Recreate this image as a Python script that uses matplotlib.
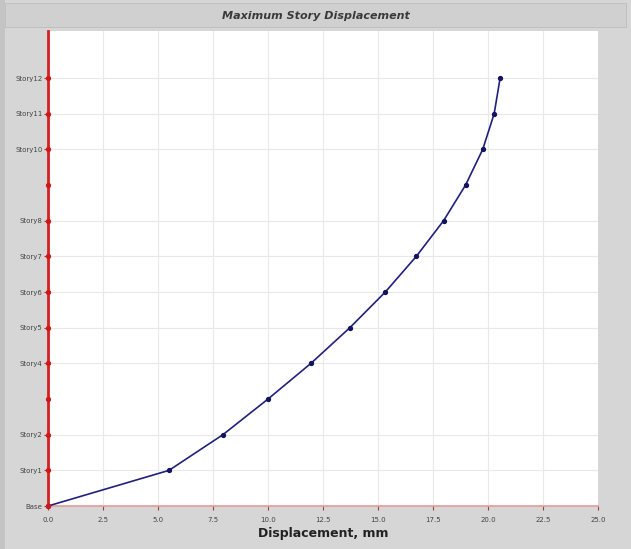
import numpy as np
import matplotlib.pyplot as plt
from matplotlib.patches import Rectangle

# story levels (bottom to top) and max displacement
stories = ["Base", "Story1", "Story2", "Story3", "Story4", "Story5", "Story6",
           "Story7", "Story8", "Story9", "Story10", "Story11", "Story12"]
disp_mm = [0.0, 5.5, 7.95, 10.0, 11.95, 13.72, 15.33, 16.74, 17.98, 18.98,
           19.76, 20.28, 20.55]
# levels that carry a label / gridline in the original
shown = ["Base", "Story1", "Story2", "Story4", "Story5", "Story6", "Story7",
         "Story8", "Story10", "Story11", "Story12"]
x_ticks = [0.0, 2.5, 5.0, 7.5, 10.0, 12.5, 15.0, 17.5, 20.0, 22.5, 25.0]

levels = np.arange(len(stories))

fig = plt.figure(figsize=(6.31, 5.49), dpi=100, facecolor='#d6d6d6')

# title band
fig.patches.append(Rectangle((0.008, 0.950), 0.984, 0.044, transform=fig.transFigure,
                             facecolor='#d0d0d0', edgecolor='#bdbdbd', lw=0.6))
fig.patches.append(Rectangle((0.0, 0.0), 0.008, 1.0, transform=fig.transFigure,
                             facecolor='#c4c4c4', edgecolor='none'))
fig.text(0.5, 0.971, "Maximum Story Displacement", ha='center', va='center',
         fontsize=8, fontweight='bold', style='italic', color='#3a3a3a')

ax = fig.add_axes([0.0761, 0.0783, 0.8716, 0.8652])
ax.set_facecolor('white')
ax.set_xlim(0, 25)
ax.set_ylim(0, 13.32)

# grid
for s in shown:
    y = stories.index(s)
    ax.axhline(y, color='#e8e8e8', lw=0.8, zorder=0)
for xv in x_ticks[1:-1]:
    ax.axvline(xv, color='#e8e8e8', lw=0.8, zorder=0)

# curve
ax.plot(disp_mm, levels, color='#20207e', lw=1.2, marker='o', ms=2.8,
        mfc='#14145e', mec='#14145e', zorder=3, clip_on=False)

# y axis markers (red dots at each level)
ax.plot(np.zeros(len(levels)), levels, ls='none', marker='o', ms=2.8,
        color='#d01818', zorder=4, clip_on=False)

for side in ['top', 'right']:
    ax.spines[side].set_visible(False)
ax.spines['left'].set_color('#d42020')
ax.spines['left'].set_linewidth(2.0)
ax.spines['bottom'].set_color('#e59a9a')
ax.spines['bottom'].set_linewidth(1.2)

ax.set_yticks([stories.index(s) for s in shown])
ax.set_yticklabels(shown, fontsize=5, color='#444444')
ax.tick_params(axis='y', length=3, width=0.8, color='#c03030', pad=1)

ax.set_xticks(x_ticks)
ax.set_xticklabels([f"{v:.1f}" for v in x_ticks], fontsize=5, color='#444444')
ax.tick_params(axis='x', length=3, width=0.8, color='#a04040', pad=5)

ax.set_xlabel("Displacement, mm", fontsize=9, fontweight='bold', color='#222222',
              labelpad=3)

fig.savefig('out.png', dpi=100, facecolor=fig.get_facecolor())
